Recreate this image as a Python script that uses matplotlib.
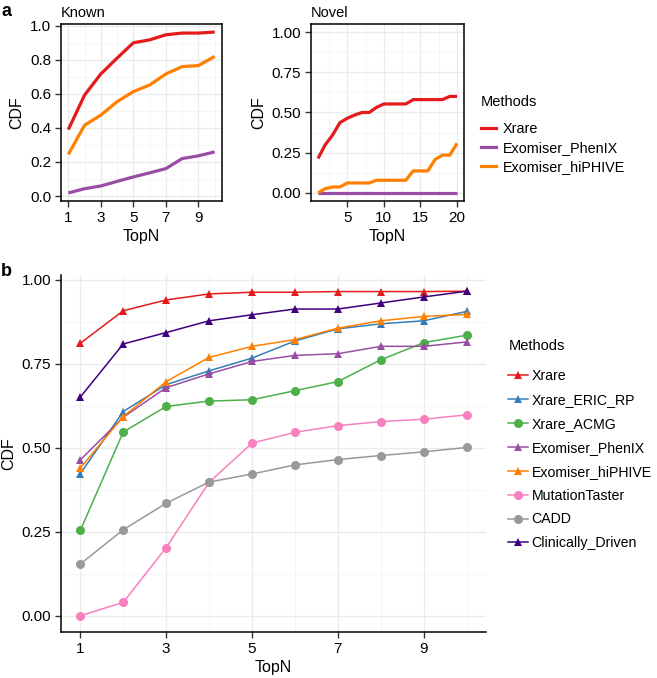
import numpy as np
import matplotlib
matplotlib.use("Agg")
import matplotlib.pyplot as plt
from matplotlib.lines import Line2D

plt.rcParams['font.family'] = ['Liberation Sans', 'DejaVu Sans']

# ---- panel a data ----
known_topn = list(range(1, 11))
known_xrare = [0.39, 0.593, 0.717, 0.81, 0.90, 0.917, 0.947, 0.957, 0.957, 0.963]
known_phenix = [0.018, 0.043, 0.059, 0.086, 0.112, 0.136, 0.161, 0.22, 0.236, 0.259]
known_hiphive = [0.244, 0.416, 0.475, 0.554, 0.613, 0.652, 0.717, 0.76, 0.766, 0.82]

novel_topn = list(range(1, 21))
novel_xrare = [0.214, 0.30, 0.36, 0.437, 0.464, 0.484, 0.50, 0.50, 0.532, 0.553,
               0.553, 0.553, 0.553, 0.58, 0.58, 0.58, 0.58, 0.58, 0.60, 0.60]
novel_phenix = [0.0] * 20
novel_hiphive = [0.0, 0.027, 0.037, 0.037, 0.062, 0.062, 0.062, 0.062, 0.079, 0.079,
                 0.079, 0.079, 0.079, 0.137, 0.137, 0.137, 0.208, 0.235, 0.235, 0.308]

# ---- panel b data ----
b_topn = list(range(1, 11))
b_methods = ["Xrare", "Xrare_ERIC_RP", "Xrare_ACMG", "Exomiser_PhenIX",
             "Exomiser_hiPHIVE", "MutationTaster", "CADD", "Clinically_Driven"]
b_values = {
    "Xrare": [0.811, 0.908, 0.940, 0.958, 0.963, 0.963, 0.965, 0.965, 0.965, 0.966],
    "Xrare_ERIC_RP": [0.423, 0.608, 0.688, 0.729, 0.767, 0.818, 0.854, 0.869, 0.878, 0.906],
    "Xrare_ACMG": [0.254, 0.547, 0.623, 0.639, 0.643, 0.670, 0.697, 0.762, 0.813, 0.835],
    "Exomiser_PhenIX": [0.464, 0.591, 0.679, 0.720, 0.757, 0.775, 0.780, 0.802, 0.802, 0.815],
    "Exomiser_hiPHIVE": [0.440, 0.593, 0.697, 0.769, 0.802, 0.822, 0.856, 0.878, 0.891, 0.897],
    "MutationTaster": [0.0, 0.040, 0.203, 0.397, 0.514, 0.546, 0.566, 0.578, 0.585, 0.598],
    "CADD": [0.154, 0.256, 0.335, 0.398, 0.422, 0.449, 0.465, 0.477, 0.488, 0.501],
    "Clinically_Driven": [0.651, 0.809, 0.843, 0.878, 0.896, 0.913, 0.913, 0.931, 0.949, 0.966],
}
b_colors = {"Xrare": "#E41A1C", "Xrare_ERIC_RP": "#377EB8", "Xrare_ACMG": "#4DAF4A",
            "Exomiser_PhenIX": "#984EA3", "Exomiser_hiPHIVE": "#FF7F00",
            "MutationTaster": "#F781BF", "CADD": "#999999", "Clinically_Driven": "#3F007D"}
b_markers = {"Xrare": "^", "Xrare_ERIC_RP": "^", "Xrare_ACMG": "o", "Exomiser_PhenIX": "^",
             "Exomiser_hiPHIVE": "^", "MutationTaster": "o", "CADD": "o",
             "Clinically_Driven": "^"}

W, H = 657, 678
fig = plt.figure(figsize=(W / 100, H / 100), dpi=100)


def ax_px(l, t, r, b):
    return fig.add_axes([l / W, 1 - b / H, (r - l) / W, (b - t) / H])


def style(ax, box=True):
    ax.set_facecolor("white")
    ax.grid(True, which="major", color="#EBEBEB", lw=1.0, zorder=0)
    ax.grid(True, which="minor", color="#F4F4F4", lw=0.6, zorder=0)
    ax.set_axisbelow(True)
    for s in ax.spines.values():
        s.set_color("black")
        s.set_linewidth(1.1)
    if not box:
        ax.spines["top"].set_visible(False)
        ax.spines["right"].set_visible(False)
    ax.tick_params(which="major", length=4, width=1, color="#333333",
                   labelsize=11, labelcolor="black", pad=3)
    ax.tick_params(which="minor", length=0)


def expand(lo, hi, f=0.05):
    d = (hi - lo) * f
    return lo - d, hi + d


a_colors = ["#E41A1C", "#984EA3", "#FF7F00"]
a_labels = ["Xrare", "Exomiser_PhenIX", "Exomiser_hiPHIVE"]

# Known
ax1 = ax_px(61, 24, 222, 201)
style(ax1)
for ys, c in zip([known_xrare, known_phenix, known_hiphive], a_colors):
    ax1.plot(known_topn, ys, color=c, lw=2.3, solid_capstyle="butt", zorder=3)
ax1.set_xlim(*expand(1, 10))
ax1.set_ylim(*expand(0.018, 0.963))
ax1.set_xticks([1, 3, 5, 7, 9])
ax1.set_xticks([2, 4, 6, 8, 10], minor=True)
ax1.set_yticks([0.0, 0.2, 0.4, 0.6, 0.8, 1.0])
ax1.set_yticks([0.1, 0.3, 0.5, 0.7, 0.9], minor=True)
ax1.set_yticklabels(["0.0", "0.2", "0.4", "0.6", "0.8", "1.0"])
ax1.set_xlabel("TopN", fontsize=11.5, labelpad=3)
ax1.set_ylabel("CDF", fontsize=11.5, labelpad=4)
ax1.set_title("Known", fontsize=10.5, loc="left", pad=5)

# Novel
ax2 = ax_px(311, 24, 464, 201)
style(ax2)
for ys, c in zip([novel_xrare, novel_phenix, novel_hiphive], a_colors):
    ax2.plot(novel_topn, ys, color=c, lw=2.3, solid_capstyle="butt", zorder=3)
ax2.set_xlim(*expand(1, 20))
ax2.set_ylim(-0.05, 1.05)
ax2.set_xticks([5, 10, 15, 20])
ax2.set_xticks([2.5, 7.5, 12.5, 17.5], minor=True)
ax2.set_yticks([0.0, 0.25, 0.5, 0.75, 1.0])
ax2.set_yticks([0.125, 0.375, 0.625, 0.875], minor=True)
ax2.set_yticklabels(["0.00", "0.25", "0.50", "0.75", "1.00"])
ax2.set_xlabel("TopN", fontsize=11.5, labelpad=3)
ax2.set_ylabel("CDF", fontsize=11.5, labelpad=4)
ax2.set_title("Novel", fontsize=10.5, loc="left", pad=5)

handles_a = [Line2D([], [], color=c, lw=2.3) for c in a_colors]
fig.text(481 / W, 1 - 102 / H, "Methods", fontsize=10.5, va="center", ha="left")
fig.legend(handles_a, a_labels, loc="upper left",
           bbox_to_anchor=(481 / W, 1 - 122 / H), frameon=False, fontsize=10.4,
           borderpad=0, borderaxespad=0, handlelength=1.05, handletextpad=0.47,
           labelspacing=0.36)

# Panel b
ax3 = ax_px(61, 275, 486, 632)
style(ax3, box=False)
for m in b_methods:
    ax3.plot(b_topn, b_values[m], color=b_colors[m], lw=1.1, marker=b_markers[m],
             markersize=6.5 if b_markers[m] == "o" else 6, markeredgewidth=0,
             zorder=3, label=m)
ax3.set_xlim(*expand(1, 10))
ax3.set_ylim(*expand(0.0, 0.966))
ax3.set_xticks([1, 3, 5, 7, 9])
ax3.set_xticks([2, 4, 6, 8, 10], minor=True)
ax3.set_yticks([0.0, 0.25, 0.5, 0.75, 1.0])
ax3.set_yticks([0.125, 0.375, 0.625, 0.875], minor=True)
ax3.set_yticklabels(["0.00", "0.25", "0.50", "0.75", "1.00"])
ax3.set_xlabel("TopN", fontsize=11.5, labelpad=3)
ax3.set_ylabel("CDF", fontsize=11.5, labelpad=4)

hb, lb = ax3.get_legend_handles_labels()
fig.text(509 / W, 1 - 346 / H, "Methods", fontsize=10.5, va="center", ha="left")
fig.legend(hb, lb, loc="upper left",
           bbox_to_anchor=(508 / W, 1 - 369 / H), frameon=False, fontsize=10.2,
           borderpad=0, borderaxespad=0, handlelength=1.39, handletextpad=0.27,
           labelspacing=0.7)

fig.text(1 / W, 1 - 12 / H, "a", fontsize=13, fontweight="bold", va="center", ha="left")
fig.text(1 / W, 1 - 272 / H, "b", fontsize=13, fontweight="bold", va="center", ha="left")

fig.savefig("out.png", dpi=100)
